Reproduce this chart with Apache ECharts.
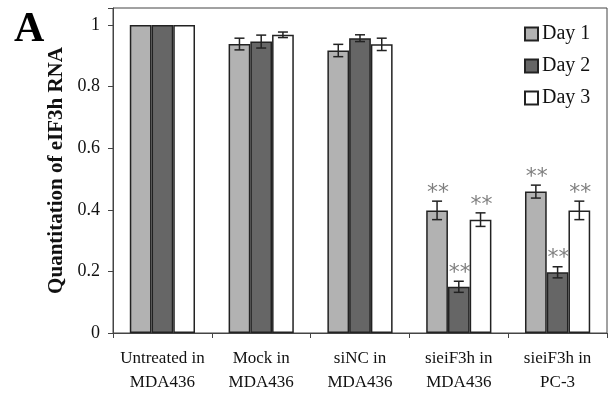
<!DOCTYPE html>
<html>
<head>
<meta charset="utf-8">
<script src="https://cdn.jsdelivr.net/npm/echarts@6/dist/echarts.min.js"></script>
<style>
  html, body { margin: 0; padding: 0; background: #fff; }
  #chart { width: 608px; height: 397px; }
</style>
</head>
<body>
<div id="chart"></div>
<script>
  // categories
  const categories = ['Untreated in\nMDA436', 'Mock in\nMDA436', 'siNC in\nMDA436', 'sieiF3h in\nMDA436', 'sieiF3h in\nPC-3'];
  const seriesNames = ['Day 1', 'Day 2', 'Day 3'];
  // mean values
  const day1 = [1, 0.938, 0.917, 0.398, 0.459];
  const day2 = [1, 0.946, 0.957, 0.150, 0.197];
  const day3 = [1, 0.968, 0.937, 0.368, 0.398];
  // error bar half-widths
  const err1 = [0, 0.019, 0.02, 0.030, 0.021];
  const err2 = [0, 0.021, 0.011, 0.018, 0.018];
  const err3 = [0, 0.009, 0.02, 0.022, 0.030];
  // significance markers
  const sig1 = ['', '', '', '**', '**'];
  const sig2 = ['', '', '', '**', '**'];
  const sig3 = ['', '', '', '**', '**'];
  const yTicks = [0, 0.2, 0.4, 0.6, 0.8, 1];

  const colors = ['#b2b2b2', '#666666', '#ffffff'];
  const means = [day1, day2, day3];
  const errs = [err1, err2, err3];
  const sigs = [sig1, sig2, sig3];
  const catGap = 0.34;
  const serif = '"Liberation Serif", "DejaVu Serif", serif';

  // 误差线 + 星号
  function errorSeries(idx) {
    const data = categories.map((c, i) => [i, means[idx][i], errs[idx][i], sigs[idx][i]]);
    return {
      type: 'custom',
      name: seriesNames[idx] + ' err',
      z: 10,
      silent: true,
      data: data,
      renderItem: function (params, api) {
        const ci = api.value(0);
        const v = api.value(1);
        const e = api.value(2);
        const s = data[params.dataIndex][3];
        const band = api.size([1, 0])[0];
        const barW = band * (1 - catGap) / 3;
        const center = api.coord([ci, v]);
        const x = center[0] + (idx - 1) * barW;
        const top = api.coord([ci, v + e])[1];
        const bot = api.coord([ci, v - e])[1];
        const cap = 5;
        const children = [];
        if (e > 0) {
          const st = { stroke: '#222', lineWidth: 1.5 };
          children.push({ type: 'line', shape: { x1: x, y1: top, x2: x, y2: bot }, style: st });
          children.push({ type: 'line', shape: { x1: x - cap, y1: top, x2: x + cap, y2: top }, style: st });
          children.push({ type: 'line', shape: { x1: x - cap, y1: bot, x2: x + cap, y2: bot }, style: st });
        }
        if (s) {
          children.push({
            type: 'text',
            style: {
              text: s, x: x + 1, y: top + 3,
              align: 'center', verticalAlign: 'bottom',
              fill: '#808080', font: '22px "DejaVu Sans", sans-serif'
            }
          });
        }
        return { type: 'group', children: children };
      }
    };
  }

  const chart = echarts.init(document.getElementById('chart'));
  const option = {
    animation: false,
    backgroundColor: '#fff',
    textStyle: { fontFamily: serif },
    title: {
      text: 'A',
      left: 9,
      top: 4,
      textStyle: { fontFamily: serif, fontWeight: 'bold', fontSize: 42, color: '#000' }
    },
    legend: {
      orient: 'vertical',
      left: 519,
      top: 19,
      itemWidth: 13,
      itemHeight: 13,
      itemGap: 12,
      icon: 'rect',
      data: seriesNames,
      textStyle: { fontFamily: serif, fontSize: 20, color: '#111', padding: [0, 0, 0, -1] }
    },
    grid: {
      left: 113, right: 1, top: 8, bottom: 64,
      show: true, borderColor: '#444', borderWidth: 1
    },
    xAxis: {
      type: 'category',
      data: categories,
      axisLine: { lineStyle: { color: '#444', width: 1 } },
      axisTick: { show: true, length: 5, lineStyle: { color: '#444' } },
      axisLabel: { interval: 0, fontFamily: serif, fontSize: 17, color: '#111', lineHeight: 24, margin: 14 }
    },
    yAxis: {
      type: 'value',
      min: 0,
      max: 1.055,
      interval: 0.2,
      name: 'Quantitation of eIF3h RNA',
      nameLocation: 'middle',
      nameGap: 45,
      nameTextStyle: { fontFamily: serif, fontWeight: 'bold', fontSize: 21, color: '#111' },
      splitLine: { show: false },
      axisLine: { show: true, lineStyle: { color: '#444' } },
      axisTick: { show: true, length: 5, lineStyle: { color: '#444' } },
      axisLabel: {
        fontFamily: serif, fontSize: 18, color: '#111', margin: 13,
        formatter: function (v) {
          const t = yTicks.find(k => Math.abs(k - v) < 1e-6);
          return t === undefined ? '' : String(t);
        }
      }
    },
    series: seriesNames.map((n, i) => ({
      type: 'bar',
      name: n,
      data: means[i],
      barGap: '0%',
      barCategoryGap: (catGap * 100) + '%',
      itemStyle: { color: colors[i], borderColor: '#222', borderWidth: 1.5 }
    })).concat([0, 1, 2].map(errorSeries))
  };
  chart.setOption(option);
</script>
</body>
</html>
